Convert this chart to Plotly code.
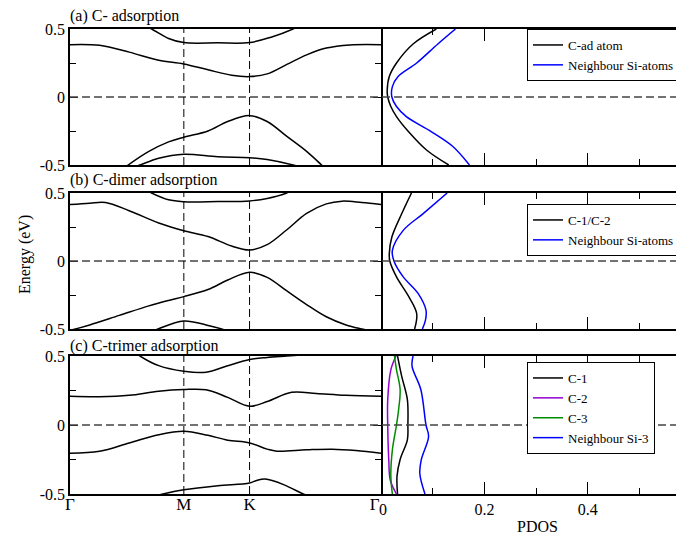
import plotly.graph_objects as go

# ---------------- k-path (hexagonal BZ: Γ-M-K-Γ) ----------------
K_TICKS = [0.0, 0.5774, 0.9107, 1.5774]
K_LABELS = ["Γ", "M", "K", "Γ\u00a0\u00a0\u00a0"]
PDOS_TICKS = [0.0, 0.2, 0.4]
PDOS_LABELS = ["\u00a00", "0.2", "0.4"]
E_TICKS = [-0.5, 0.0, 0.5]
E_LABELS = ["-0.5", "0", "0.5"]

# ---------------- (a) C- adsorption : bands ----------------
a_b1_k = [0.30, 0.414, 0.50, 0.577, 0.75, 0.911, 1.02, 1.131, 1.22]
a_b1_e = [0.58, 0.50, 0.43, 0.40, 0.398, 0.40, 0.44, 0.50, 0.57]
a_b2_k = [0.0, 0.15, 0.30, 0.45, 0.577, 0.70, 0.82, 0.911, 1.0, 1.10, 1.20, 1.30, 1.42, 1.5774]
a_b2_e = [0.385, 0.38, 0.33, 0.27, 0.243, 0.20, 0.16, 0.15, 0.17, 0.24, 0.31, 0.36, 0.383, 0.385]
a_b3_k = [0.25, 0.295, 0.40, 0.50, 0.577, 0.70, 0.80, 0.911, 1.0, 1.10, 1.20, 1.276, 1.32]
a_b3_e = [-0.55, -0.50, -0.40, -0.33, -0.296, -0.25, -0.18, -0.137, -0.18, -0.29, -0.40, -0.50, -0.56]
a_b4_k = [0.30, 0.355, 0.45, 0.577, 0.75, 0.911, 1.0, 1.131, 1.20]
a_b4_e = [-0.53, -0.50, -0.45, -0.421, -0.44, -0.446, -0.46, -0.50, -0.53]

# ---------------- (b) C-dimer adsorption : bands ----------------
b_b1_k = [0.33, 0.414, 0.50, 0.577, 0.75, 0.911, 1.0, 1.099, 1.18]
b_b1_e = [0.57, 0.50, 0.45, 0.436, 0.437, 0.441, 0.46, 0.50, 0.56]
b_b2_k = [0.0, 0.10, 0.18, 0.30, 0.45, 0.577, 0.70, 0.82, 0.911, 1.0, 1.10, 1.20, 1.30, 1.38, 1.48, 1.5774]
b_b2_e = [0.415, 0.425, 0.43, 0.37, 0.28, 0.223, 0.18, 0.11, 0.081, 0.12, 0.23, 0.35, 0.42, 0.44, 0.43, 0.415]
b_b3_k = [0.0, 0.10, 0.25, 0.40, 0.50, 0.577, 0.70, 0.80, 0.911, 1.0, 1.10, 1.20, 1.30, 1.40, 1.48, 1.5774]
b_b3_e = [-0.51, -0.47, -0.40, -0.33, -0.29, -0.262, -0.21, -0.14, -0.083, -0.12, -0.22, -0.32, -0.41, -0.47, -0.50, -0.53]
b_b4_k = [0.40, 0.447, 0.577, 0.69, 0.769, 0.82]
b_b4_e = [-0.53, -0.50, -0.441, -0.47, -0.50, -0.53]

# ---------------- (c) C-trimer adsorption : bands ----------------
c_b1_k = [0.30, 0.355, 0.45, 0.577, 0.69, 0.80, 0.911, 1.0, 1.10, 1.20]
c_b1_e = [0.56, 0.50, 0.43, 0.39, 0.383, 0.43, 0.475, 0.49, 0.50, 0.51]
c_b2_k = [0.0, 0.15, 0.30, 0.45, 0.577, 0.69, 0.80, 0.911, 1.0, 1.124, 1.25, 1.40, 1.5774]
c_b2_e = [0.208, 0.205, 0.215, 0.245, 0.257, 0.255, 0.20, 0.136, 0.17, 0.237, 0.228, 0.215, 0.208]
c_b3_k = [0.0, 0.15, 0.30, 0.45, 0.577, 0.70, 0.80, 0.911, 1.0, 1.05, 1.20, 1.33, 1.45, 1.5774]
c_b3_e = [-0.205, -0.19, -0.13, -0.07, -0.045, -0.075, -0.11, -0.13, -0.175, -0.19, -0.18, -0.175, -0.185, -0.205]
c_b4_k = [0.42, 0.472, 0.577, 0.75, 0.911, 0.95, 0.99, 1.08, 1.183, 1.23]
c_b4_e = [-0.52, -0.50, -0.47, -0.44, -0.42, -0.40, -0.392, -0.43, -0.50, -0.53]

# ---------------- PDOS (energy grid and values) ----------------
a_pd_e_c = [0.5, 0.39, 0.25, 0.15, 0.05, 0.0, -0.07, -0.144, -0.254, -0.39, -0.5]
a_pd_c = [0.107, 0.062, 0.030, 0.016, 0.012, 0.013, 0.019, 0.030, 0.053, 0.088, 0.131]
a_pd_e_si = [0.5, 0.39, 0.25, 0.15, 0.076, 0.0, -0.07, -0.144, -0.254, -0.364, -0.5]
a_pd_si = [0.144, 0.110, 0.069, 0.033, 0.022, 0.021, 0.030, 0.049, 0.097, 0.139, 0.171]

b_pd_e_c = [0.5, 0.347, 0.176, 0.054, 0.0, -0.117, -0.264, -0.386, -0.5]
b_pd_c = [0.059, 0.040, 0.021, 0.016, 0.017, 0.030, 0.054, 0.069, 0.065]
b_pd_e_si = [0.5, 0.347, 0.225, 0.078, 0.0, -0.117, -0.24, -0.362, -0.435, -0.5]
b_pd_si = [0.128, 0.081, 0.043, 0.022, 0.025, 0.043, 0.072, 0.087, 0.086, 0.080]

c_pd_e_c1 = [0.5, 0.354, 0.184, 0.0, -0.107, -0.25, -0.37, -0.5]
c_pd_c1 = [0.032, 0.040, 0.051, 0.052, 0.051, 0.037, 0.031, 0.032]
c_pd_e_c2 = [0.5, 0.40, 0.184, 0.0, -0.25, -0.40, -0.5]
c_pd_c2 = [0.029, 0.019, 0.013, 0.013, 0.015, 0.018, 0.030]
c_pd_e_c3 = [0.5, 0.40, 0.257, 0.11, 0.0, -0.18, -0.37, -0.5]
c_pd_c3 = [0.026, 0.030, 0.037, 0.034, 0.030, 0.022, 0.019, 0.022]
c_pd_e_si = [0.5, 0.427, 0.257, 0.0, -0.083, -0.25, -0.35, -0.5]
c_pd_si = [0.062, 0.060, 0.077, 0.087, 0.092, 0.078, 0.075, 0.085]

# ---------------- figure ----------------
FONT = "Liberation Serif"
PAGE_OFF = 8            # default body margin of the html page
W, H = 684 - PAGE_OFF, 539 - PAGE_OFF
BLUE = "#0000ff"
VIOLET = "#9400d3"
GREEN = "#008b00"


def px_x(p):
    return (p - PAGE_OFF) / W


def px_y(p):
    return 1 - (p - PAGE_OFF) / H


XB = [px_x(70), px_x(381)]
XP = [px_x(381), px_x(683)]
PANELS_Y = [(29, 165), (193, 329), (356, 494)]

fig = go.Figure()

band_sets = [
    [(a_b1_k, a_b1_e), (a_b2_k, a_b2_e), (a_b3_k, a_b3_e), (a_b4_k, a_b4_e)],
    [(b_b1_k, b_b1_e), (b_b2_k, b_b2_e), (b_b3_k, b_b3_e), (b_b4_k, b_b4_e)],
    [(c_b1_k, c_b1_e), (c_b2_k, c_b2_e), (c_b3_k, c_b3_e), (c_b4_k, c_b4_e)],
]
pdos_sets = [
    [("C-ad atom", a_pd_c, a_pd_e_c, "black"), ("Neighbour Si-atoms", a_pd_si, a_pd_e_si, BLUE)],
    [("C-1/C-2", b_pd_c, b_pd_e_c, "black"), ("Neighbour Si-atoms", b_pd_si, b_pd_e_si, BLUE)],
    [("C-1", c_pd_c1, c_pd_e_c1, "black"), ("C-2", c_pd_c2, c_pd_e_c2, VIOLET),
     ("C-3", c_pd_c3, c_pd_e_c3, GREEN), ("Neighbour Si-3", c_pd_si, c_pd_e_si, BLUE)],
]
legend_names = ["legend", "legend2", "legend3"]
legend_tops = [29, 204, 362]

for i in range(3):
    xb = "x" if i == 0 else f"x{2*i+1}"
    yb = "y" if i == 0 else f"y{2*i+1}"
    xp = f"x{2*i+2}"
    yp = f"y{2*i+2}"
    for k, e in band_sets[i]:
        fig.add_trace(go.Scatter(x=k, y=e, mode="lines", xaxis=xb, yaxis=yb,
                                 line=dict(color="black", width=1.5, shape="spline", smoothing=1.0),
                                 showlegend=False, hoverinfo="skip"))
    for name, d, e, col in pdos_sets[i]:
        fig.add_trace(go.Scatter(x=d, y=e, mode="lines", xaxis=xp, yaxis=yp, name=name,
                                 line=dict(color=col, width=1.5, shape="spline", smoothing=1.0),
                                 legend=legend_names[i], showlegend=True))

layout = {}
for i, (top, bot) in enumerate(PANELS_Y):
    dom_y = [px_y(bot), px_y(top)]
    last = i == 2
    sfx_b = "" if i == 0 else str(2 * i + 1)
    sfx_p = str(2 * i + 2)
    ynb = "y" if i == 0 else f"y{2*i+1}"
    xnb = "x" if i == 0 else f"x{2*i+1}"
    layout["xaxis" + sfx_b] = dict(domain=XB, range=[K_TICKS[0], K_TICKS[-1]], anchor=ynb,
                                   showline=True, mirror=True, linecolor="black", linewidth=1.5,
                                   ticks="", tickvals=K_TICKS, ticktext=K_LABELS,
                                   showticklabels=last, showgrid=False, zeroline=False,
                                   ticklabelstandoff=-6,
                                   tickfont=dict(family=FONT, size=17, color="black"))
    layout["yaxis" + sfx_b] = dict(domain=dom_y, range=[-0.5, 0.5], anchor=xnb,
                                   showline=True, mirror="ticks", linecolor="black", linewidth=1.5,
                                   ticks="inside", ticklen=8, tickwidth=1, tickcolor="black",
                                   tickvals=E_TICKS, ticktext=E_LABELS,
                                   minor=dict(ticks="inside", ticklen=6, tickvals=[-0.25, 0.25],
                                              tickcolor="black", tickwidth=1, showgrid=False),
                                   showgrid=False, zeroline=False,
                                   tickfont=dict(family=FONT, size=16, color="black"))
    layout["xaxis" + sfx_p] = dict(domain=XP, range=[0, 0.584], anchor=f"y{2*i+2}",
                                   showline=True, mirror="ticks", linecolor="black", linewidth=1.5,
                                   ticks="inside", ticklen=12, tickwidth=1, tickcolor="black",
                                   tickvals=PDOS_TICKS, ticktext=PDOS_LABELS,
                                   minor=dict(ticks="inside", ticklen=6, tickvals=[0.1, 0.3, 0.5],
                                              tickcolor="black", tickwidth=1, showgrid=False),
                                   showticklabels=last, showgrid=False, zeroline=False,
                                   tickfont=dict(family=FONT, size=16, color="black"))
    layout["yaxis" + sfx_p] = dict(domain=dom_y, range=[-0.5, 0.5], anchor=f"x{2*i+2}",
                                   side="right", showline=True, mirror=False,
                                   linecolor="black", linewidth=1.5,
                                   ticks="", showticklabels=False, showgrid=False, zeroline=False)
    ln = legend_names[i]
    layout[ln] = dict(x=px_x(527), y=px_y(legend_tops[i]), xanchor="left", yanchor="top",
                      bgcolor="white", bordercolor="black", borderwidth=1,
                      font=dict(family=FONT, size=13, color="black"),
                      itemwidth=30, tracegroupgap=0)

fig.update_layout(**layout)

shapes = []
for i in range(3):
    ynb = "y" if i == 0 else f"y{2*i+1}"
    xnb = "x" if i == 0 else f"x{2*i+1}"
    # Fermi level (dashed) across band + PDOS panels
    shapes.append(dict(type="line", xref="paper", yref=ynb, x0=XB[0], x1=XP[1], y0=0, y1=0,
                       line=dict(color="#444444", width=1.5, dash="8px,4px"), layer="above"))
    for kv in K_TICKS[1:3]:
        shapes.append(dict(type="line", xref=xnb, yref=ynb + " domain", x0=kv, x1=kv, y0=0, y1=1,
                           line=dict(color="black", width=1, dash="8px,4px"), layer="above"))

annotations = [
    dict(text="(a) C- adsorption", x=px_x(69), y=px_y(16), xanchor="left", yanchor="middle"),
    dict(text="(b) C-dimer adsorption", x=px_x(69), y=px_y(180), xanchor="left", yanchor="middle"),
    dict(text="(c) C-trimer adsorption", x=px_x(69), y=px_y(346), xanchor="left", yanchor="middle"),
    dict(text="Energy (eV)", x=px_x(25), y=px_y(255), xanchor="center", yanchor="middle", textangle=-90),
    dict(text="PDOS", x=px_x(537), y=px_y(526), xanchor="center", yanchor="middle"),
]
for a in annotations:
    a.update(xref="paper", yref="paper", showarrow=False, borderpad=0,
             font=dict(family=FONT, size=16, color="black"))

fig.update_layout(width=W, height=H, margin=dict(l=0, r=0, t=0, b=0, autoexpand=False),
                  paper_bgcolor="white", plot_bgcolor="white",
                  shapes=shapes, annotations=annotations, font=dict(family=FONT))

fig.write_html("out.html")
